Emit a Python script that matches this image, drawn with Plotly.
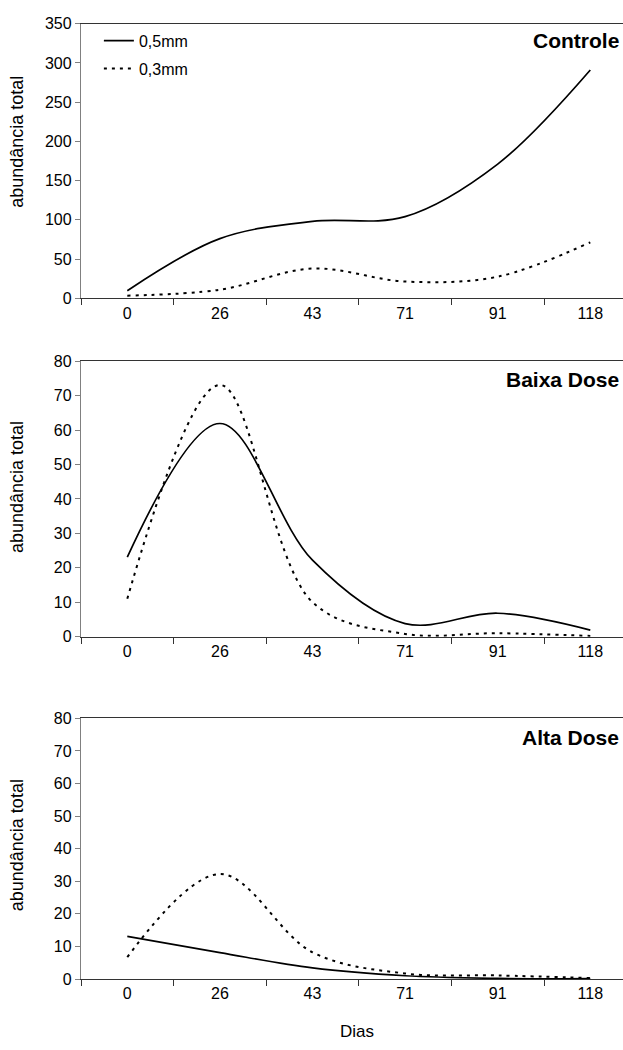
import plotly.graph_objects as go

dias = ["0", "26", "43", "71", "91", "118"]

controle_05 = [9.6, 76, 98, 104, 171, 291]
controle_03 = [3.3, 10.8, 37.9, 21.3, 27.5, 71.3]
baixa_05 = [23.1, 61.9, 22.2, 3.8, 6.8, 1.9]
baixa_03 = [11.0, 73.1, 10.0, 0.8, 1.0, 0.2]
alta_05 = [13.1, 8.1, 3.4, 1.0, 0.2, 0.1]
alta_03 = [6.7, 32.2, 8.2, 1.7, 1.1, 0.3]

panel_titles = ["Controle", "Baixa Dose", "Alta Dose"]
series_names = ["0,5mm", "0,3mm"]
y_max = [350, 80, 80]
y_step = [50, 10, 10]

W, H = 623, 1050
L = 81
# plot-area pixel extents (top, bottom) for each panel
panels_px = [(16, 295), (359, 639), (722, 987)]

FONT = "Liberation Sans, Arial, sans-serif"

fig = go.Figure()

data = [(controle_05, controle_03), (baixa_05, baixa_03), (alta_05, alta_03)]

cat_px = 92.6
plot_w = W - L
x_hi = -0.5 + plot_w / cat_px

layout_axes = {}
for i, ((s05, s03), (top, bot)) in enumerate(zip(data, panels_px)):
    idx = "" if i == 0 else str(i + 1)
    xa = "x" + idx
    ya = "y" + idx
    fig.add_trace(go.Scatter(
        x=dias, y=s05, mode="lines", name=series_names[0],
        line=dict(color="black", width=1.7, shape="spline", smoothing=1.0),
        xaxis=xa, yaxis=ya, showlegend=(i == 0), legendgroup="a"))
    fig.add_trace(go.Scatter(
        x=dias, y=s03, mode="lines", name=series_names[1],
        line=dict(color="black", width=2, shape="spline", smoothing=1.0, dash="3px,5px"),
        xaxis=xa, yaxis=ya, showlegend=(i == 0), legendgroup="b"))
    dom = [1 - bot / H, 1 - top / H]
    layout_axes["xaxis" + idx] = dict(
        type="category", domain=[0, 1], anchor=ya, range=[-0.5, x_hi],
        tickson="boundaries", ticks="outside", ticklen=6, tickcolor="#333",
        showline=True, linecolor="#333", linewidth=1.3, mirror=True,
        showgrid=False, zeroline=False,
        tickfont=dict(family=FONT, size=16, color="black"),
    )
    layout_axes["yaxis" + idx] = dict(
        domain=dom, anchor=xa, range=[0, y_max[i]], dtick=y_step[i], tick0=0,
        ticks="outside", ticklen=5, tickcolor="#808080",
        showline=True, linecolor="#808080", linewidth=1.3,
        showgrid=False, zeroline=False,
        tickfont=dict(family=FONT, size=16, color="black"),
    )

fig.update_layout(**layout_axes)

annotations = []
title_y = [33, 378, 741]
ylab_y = [136, 487, 851]
for i in range(3):
    annotations.append(dict(
        text="<b>" + panel_titles[i] + "</b>", xref="paper", yref="paper",
        x=(621 - L) / plot_w, y=1 - title_y[i] / H, xanchor="right", yanchor="middle",
        showarrow=False, font=dict(family=FONT, size=21, color="black")))
    annotations.append(dict(
        text="abundância total", xref="paper", yref="paper",
        x=(17 - L) / plot_w, y=1 - ylab_y[i] / H, xanchor="center", yanchor="middle",
        textangle=-90, showarrow=False, font=dict(family=FONT, size=18, color="black")))
annotations.append(dict(
    text="Dias", xref="paper", yref="paper",
    x=(357 - L) / plot_w, y=1 - 1040 / H, xanchor="center", yanchor="middle",
    showarrow=False, font=dict(family=FONT, size=17, color="black")))

fig.update_layout(
    width=W, height=H,
    margin=dict(l=L, r=0, t=0, b=0),
    paper_bgcolor="white", plot_bgcolor="white",
    annotations=annotations,
    showlegend=True,
    legend=dict(
        x=0.033, y=1 - 16 / H, xanchor="left", yanchor="top",
        bgcolor="rgba(0,0,0,0)", borderwidth=0,
        font=dict(family=FONT, size=16, color="black"),
        traceorder="grouped", tracegroupgap=4,
    ),
)

fig.write_html("out.html")
